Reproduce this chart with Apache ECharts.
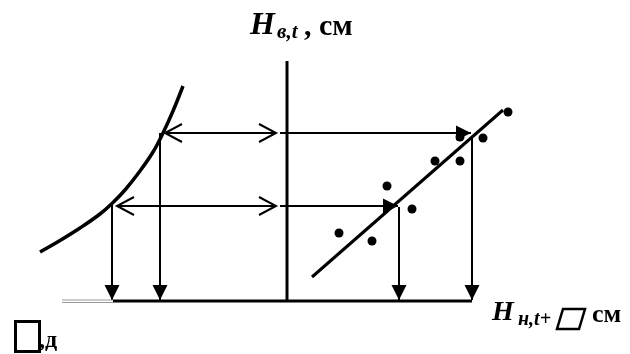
<!DOCTYPE html>
<html>
<head>
<meta charset="utf-8">
<script src="https://cdn.jsdelivr.net/npm/echarts@6/dist/echarts.min.js"></script>
<style>
  html, body { margin: 0; padding: 0; background: #fff; }
  #chart { width: 630px; height: 354px; }
</style>
</head>
<body>
<div id="chart"></div>
<script>
// schematic coordinates (x to the right, y downward, in chart units)
const curveX = [40, 60, 80, 100, 112, 125, 140, 153, 163, 173, 183]
const curveY = [252, 240.5, 228, 214, 203.5, 190, 171, 152, 133, 111, 86]

const trendX = [312, 503]
const trendY = [277, 110]

const pointsX = [508, 483, 460, 435, 460, 387, 412, 339, 372]
const pointsY = [112, 138, 137, 161, 161, 186, 209, 233, 241]

// axes of the diagram
const vAxis = [[287, 61], [287, 300]]
const baseLine = [[113, 301], [472, 301]]
const greyX = [62, 113]
const greyY = [300, 302.5]

// [x1, y1, x2, y2, kind]  kind 0 = open heads both ends, 1 = filled head at end
const arrows = [
  [165, 133, 276, 133, 0],
  [117, 206, 276, 206, 0],
  [280, 133, 471, 133, 1],
  [280, 206, 398, 206, 1],
  [112, 204, 112, 300, 1],
  [160, 133, 160, 300, 1],
  [399, 207, 399, 300, 1],
  [472, 136, 472, 300, 1]
]

const chart = echarts.init(document.getElementById('chart'))

function zip(xs, ys) {
  return xs.map((x, i) => [x, ys[i]])
}

function renderArrow(params, api) {
  const p1 = api.coord([api.value(0), api.value(1)])
  const p2 = api.coord([api.value(2), api.value(3)])
  const kind = api.value(4)
  const dx = p2[0] - p1[0]
  const dy = p2[1] - p1[1]
  const len = Math.sqrt(dx * dx + dy * dy)
  const ux = dx / len
  const uy = dy / len
  const nx = -uy
  const ny = ux
  const head = (tip, dirx, diry, L, W) => [
    [tip[0] - dirx * L + nx * W, tip[1] - diry * L + ny * W],
    tip,
    [tip[0] - dirx * L - nx * W, tip[1] - diry * L - ny * W]
  ]
  const children = [{
    type: 'line',
    shape: { x1: p1[0], y1: p1[1], x2: p2[0], y2: p2[1] },
    style: { stroke: '#000', lineWidth: 2 }
  }]
  if (kind === 0) {
    children.push({
      type: 'polyline',
      shape: { points: head(p1, -ux, -uy, 17, 9) },
      style: { stroke: '#000', lineWidth: 2, fill: null }
    })
    children.push({
      type: 'polyline',
      shape: { points: head(p2, ux, uy, 17, 9) },
      style: { stroke: '#000', lineWidth: 2, fill: null }
    })
  } else {
    children.push({
      type: 'polygon',
      shape: { points: head(p2, ux, uy, 15, 7.5) },
      style: { fill: '#000' }
    })
  }
  return { type: 'group', children: children }
}

const serif = '"Liberation Serif", "DejaVu Serif", serif'

chart.setOption({
  animation: false,
  backgroundColor: '#fff',
  grid: { left: 0, right: 0, top: 0, bottom: 0 },
  xAxis: { type: 'value', min: 0, max: 630, show: false },
  yAxis: { type: 'value', min: 0, max: 354, inverse: true, show: false },
  series: [
    {
      type: 'line',
      data: zip(curveX, curveY),
      smooth: 0.4,
      symbol: 'none',
      lineStyle: { color: '#000', width: 3.5 }
    },
    {
      type: 'line',
      data: zip(trendX, trendY),
      symbol: 'none',
      lineStyle: { color: '#000', width: 3 }
    },
    {
      type: 'line',
      data: vAxis,
      symbol: 'none',
      lineStyle: { color: '#000', width: 3 }
    },
    {
      type: 'line',
      data: baseLine,
      symbol: 'none',
      lineStyle: { color: '#000', width: 3 }
    },
    {
      type: 'line',
      data: [[greyX[0], greyY[0]], [greyX[1], greyY[0]]],
      symbol: 'none',
      lineStyle: { color: '#999', width: 1 }
    },
    {
      type: 'line',
      data: [[greyX[0], greyY[1]], [greyX[1], greyY[1]]],
      symbol: 'none',
      lineStyle: { color: '#999', width: 1 }
    },
    {
      type: 'custom',
      data: arrows,
      renderItem: renderArrow
    },
    {
      type: 'scatter',
      data: zip(pointsX, pointsY),
      symbolSize: 9,
      itemStyle: { color: '#000', opacity: 1 }
    }
  ],
  graphic: [
    // top label  H в,t, см
    { type: 'text', left: 250, top: 10, style: { text: 'H', font: 'italic bold 32px ' + serif, fill: '#000' } },
    { type: 'text', left: 277, top: 22, style: { text: 'в,t', font: 'italic bold 21px ' + serif, fill: '#000' } },
    { type: 'text', left: 304, top: 12, style: { text: ', см', font: 'bold 30px ' + serif, fill: '#000' } },
    // bottom right label  H н,t+▱ см
    { type: 'text', left: 492, top: 299, style: { text: 'H', font: 'italic bold 28px ' + serif, fill: '#000' } },
    { type: 'text', left: 518, top: 310, style: { text: 'н,t+', font: 'italic bold 20px ' + serif, fill: '#000' } },
    {
      type: 'polygon',
      shape: { points: [[563, 309], [585, 309], [579, 329], [557, 329]] },
      style: { fill: null, stroke: '#000', lineWidth: 2.5 }
    },
    { type: 'text', left: 592, top: 302, style: { text: 'см', font: 'bold 26px ' + serif, fill: '#000' } },
    // bottom left label  □,д
    {
      type: 'rect',
      shape: { x: 15.5, y: 321.5, width: 24, height: 30 },
      style: { fill: null, stroke: '#000', lineWidth: 3 }
    },
    { type: 'text', left: 39, top: 329, style: { text: ',д', font: 'bold 24px ' + serif, fill: '#000' } }
  ]
})
</script>
</body>
</html>
